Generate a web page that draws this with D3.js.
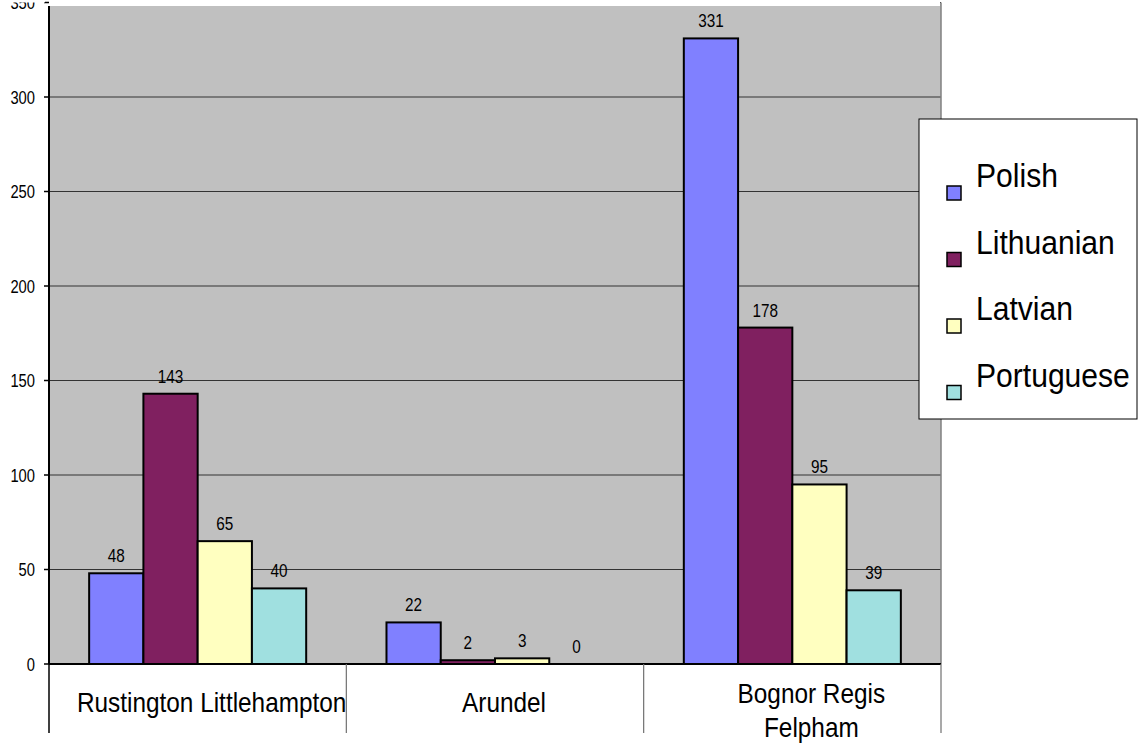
<!DOCTYPE html>
<html>
<head>
<meta charset="utf-8">
<script src="https://cdn.jsdelivr.net/npm/d3@7/dist/d3.min.js"></script>
<style>
  html, body { margin: 0; padding: 0; background: #fff; }
  svg { display: block; font-family: Arial, "Liberation Sans", sans-serif; }
</style>
</head>
<body>
<svg id="chart" width="1138" height="745"></svg>
<script>
// ---- data ----
const categories = ["Rustington Littlehampton", "Arundel", "Bognor Regis Felpham"];
const categoryLines = [["Rustington Littlehampton"], ["Arundel"], ["Bognor Regis", "Felpham"]];
const seriesNames = ["Polish", "Lithuanian", "Latvian", "Portuguese"];
const polish = [48, 22, 331];
const lithuanian = [143, 2, 178];
const latvian = [65, 3, 95];
const portuguese = [40, 0, 39];
const yTicks = [0, 50, 100, 150, 200, 250, 300, 350];
const colors = ["#8080FF", "#802060", "#FFFFC0", "#A0E0E0"];

const seriesValues = [polish, lithuanian, latvian, portuguese];

// ---- layout ----
const svg = d3.select("#chart");
const plot = { left: 49, right: 941, top: 6, bottom: 664 };
const y = d3.scaleLinear().domain([0, 350]).range([plot.bottom, 2.5]);
const x0 = d3.scaleBand().domain(categories).range([plot.left, plot.right]).paddingInner(0).paddingOuter(0);
const x1 = d3.scaleBand().domain(seriesNames).range([0, x0.bandwidth()]).paddingInner(0).paddingOuter(0.74);

// condensed text helper
function ctext(g, str, x, yy, size, k, anchor) {
  const t = g.append("g").attr("transform", `translate(${x},${yy}) scale(${k},1)`)
    .append("text")
    .attr("x", 0).attr("y", 0)
    .attr("font-size", size)
    .attr("text-anchor", anchor || "middle")
    .attr("fill", "#000")
    .text(str);
  return t;
}

// plot background
svg.append("rect")
  .attr("x", plot.left).attr("y", y(350))
  .attr("width", plot.right - plot.left).attr("height", plot.bottom - y(350))
  .attr("fill", "#C0C0C0");

// gridlines
svg.append("g").selectAll("line").data(yTicks.filter(d => d > 0)).join("line")
  .attr("x1", plot.left).attr("x2", plot.right)
  .attr("y1", d => y(d)).attr("y2", d => y(d))
  .attr("stroke", "#333").attr("stroke-width", 1);

// plot right border
svg.append("line").attr("x1", plot.right).attr("x2", plot.right)
  .attr("y1", y(350)).attr("y2", plot.bottom)
  .attr("stroke", "#808080").attr("stroke-width", 1.5);

// bars
const groups = svg.append("g").selectAll("g").data(categories).join("g")
  .attr("transform", d => `translate(${x0(d)},0)`);
groups.each(function(cat, ci) {
  const g = d3.select(this);
  const data = seriesNames.map((s, si) => ({ s, si, v: seriesValues[si][ci] }));
  g.selectAll("rect").data(data.filter(d => d.v > 0)).join("rect")
    .attr("x", d => x1(d.s))
    .attr("y", d => y(d.v))
    .attr("width", x1.bandwidth())
    .attr("height", d => y(0) - y(d.v))
    .attr("fill", d => colors[d.si])
    .attr("stroke", "#000")
    .attr("stroke-width", 2);
  data.forEach(d => {
    ctext(g, String(d.v), x1(d.s) + x1.bandwidth() / 2, y(d.v) - 11, 18, 0.85, "middle");
  });
});

// white band at the top (title area)
svg.append("rect").attr("x", 0).attr("y", 0).attr("width", 940).attr("height", plot.top).attr("fill", "#fff");

// y axis
svg.append("line").attr("x1", plot.left).attr("x2", plot.left)
  .attr("y1", plot.top).attr("y2", plot.bottom)
  .attr("stroke", "#000").attr("stroke-width", 2);
const yAxisG = svg.append("g");
yTicks.forEach(t => {
  yAxisG.append("line").attr("x1", plot.left - 5).attr("x2", plot.left)
    .attr("y1", y(t)).attr("y2", y(t)).attr("stroke", "#000").attr("stroke-width", 1.5);
  ctext(yAxisG, String(t), 35, y(t) + 6.5, 18, 0.82, "end");
});
svg.append("rect").attr("x", 0).attr("y", 0).attr("width", 45).attr("height", 2.5).attr("fill", "#fff");

// x axis
svg.append("line").attr("x1", plot.left).attr("x2", plot.right)
  .attr("y1", plot.bottom).attr("y2", plot.bottom)
  .attr("stroke", "#000").attr("stroke-width", 2);
const bounds = categories.map(c => x0(c)).concat([x0.range()[1]]);
svg.append("g").selectAll("line").data(bounds).join("line")
  .attr("x1", d => d).attr("x2", d => d)
  .attr("y1", plot.bottom).attr("y2", 733)
  .attr("stroke", (d, i) => i === 0 ? "#000" : "#707070")
  .attr("stroke-width", (d, i) => i === 0 ? 1.5 : 1.2);

const xLab = svg.append("g");
categories.forEach((c, i) => {
  const lines = categoryLines[i];
  const cx = x0(c) + x0.bandwidth() / 2 + (i === 1 ? 9 : i === 0 ? 14 : 19);
  const base = lines.length === 1 ? 712 : 703;
  lines.forEach((ln, li) => ctext(xLab, ln, cx, base + li * 34, 28, 0.87, "middle"));
});

// legend
const legend = svg.append("g");
legend.append("rect").attr("x", 919).attr("y", 119).attr("width", 218).attr("height", 300)
  .attr("fill", "#fff").attr("stroke", "#000").attr("stroke-width", 1);
seriesNames.forEach((s, i) => {
  const yy = 186 + i * 66.5;
  legend.append("rect").attr("x", 947).attr("y", yy).attr("width", 14).attr("height", 14)
    .attr("fill", colors[i]).attr("stroke", "#000").attr("stroke-width", 1.5);
  ctext(legend, s, 976, yy + 1, 34, 0.885, "start");
});
</script>
</body>
</html>
